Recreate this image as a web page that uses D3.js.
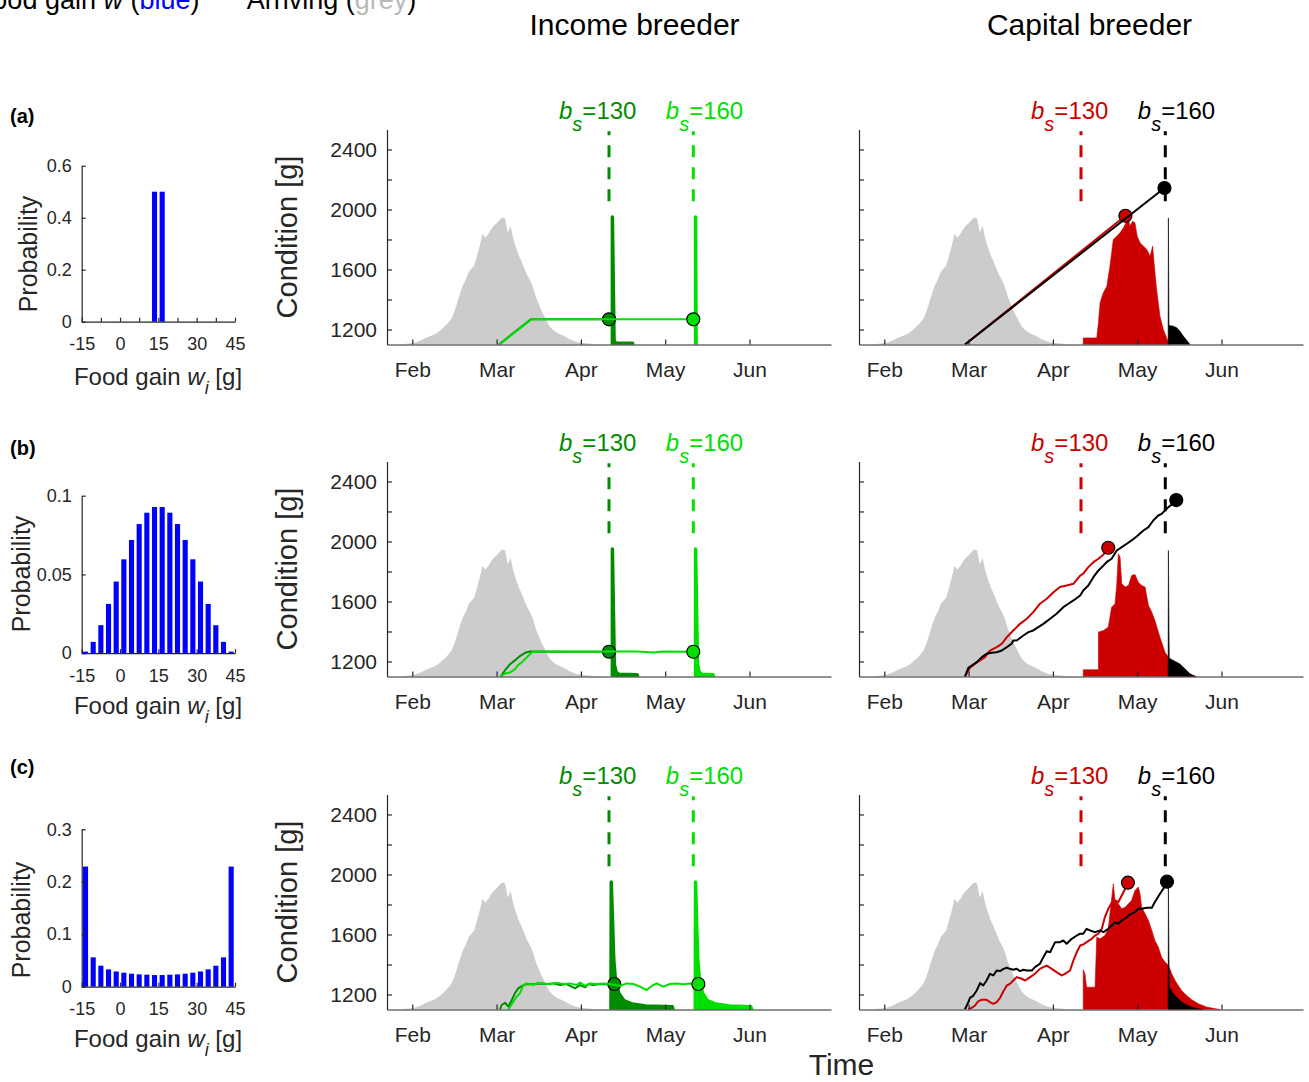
<!DOCTYPE html>
<html>
<head>
<meta charset="utf-8">
<script src="https://cdn.jsdelivr.net/npm/d3@7"></script>
<style>
  body { margin: 0; background: #fff; }
  svg text { font-family: "Liberation Sans", Arial, Helvetica, sans-serif; }
</style>
</head>
<body>
<svg id="chart" width="1309" height="1082"></svg>
<script>
// ---- food gain distributions (3 g bins) ----
const binCenters = [-13.5, -10.5, -7.5, -4.5, -1.5, 1.5, 4.5, 7.5, 10.5, 13.5,
                    16.5, 19.5, 22.5, 25.5, 28.5, 31.5, 34.5, 37.5, 40.5, 43.5];
const probA = [0, 0, 0, 0, 0, 0, 0, 0, 0, 0.5, 0.5, 0, 0, 0, 0, 0, 0, 0, 0, 0];
const probB = [0.001, 0.0072, 0.0178, 0.0313, 0.0455, 0.0596, 0.0719, 0.082, 0.0892, 0.0928,
               0.0928, 0.0892, 0.082, 0.0719, 0.0596, 0.0455, 0.0313, 0.0178, 0.0072, 0.001];
const probC = [0.229, 0.056, 0.040, 0.033, 0.029, 0.0267, 0.0248, 0.0235, 0.0229, 0.0222,
               0.0222, 0.0229, 0.0235, 0.0248, 0.0267, 0.029, 0.033, 0.040, 0.056, 0.229];
const foodTicks = [-15, -7.5, 0, 7.5, 15, 22.5, 30, 37.5, 45];
const foodLabels = [-15, 0, 15, 30, 45];
const probTicks = [[0, 0.2, 0.4, 0.6], [0, 0.05, 0.1], [0, 0.1, 0.2, 0.3]];
const probMax = [0.6, 0.1, 0.3];

// ---- time axis ----
const monthDays = [60, 90, 120, 150, 180];
const monthNames = ['Feb', 'Mar', 'Apr', 'May', 'Jun'];
const conditionTicks = [1200, 1400, 1600, 1800, 2000, 2200, 2400];
const conditionLabels = [1200, 1600, 2000, 2400];
const breedStarts = [130, 160];

// ---- arrival distribution (grey, plotted on the condition axis) ----
const arrivalDays = [55, 56, 57, 58, 59, 60, 61, 62, 63, 64, 65, 66, 67, 68, 69, 70, 71, 72,
  73, 74, 75, 76, 77, 78, 79, 80, 81, 82, 83, 84, 85, 86, 87, 88, 89, 90, 91, 92, 93, 94, 95,
  96, 97, 98, 99, 100, 101, 102, 103, 104, 105, 106, 107, 108, 109, 110, 111, 112, 113, 114,
  115, 116, 117, 118, 119, 120, 121, 122, 123, 124, 125, 126];
const arrivalCond = [1100, 1101, 1103, 1105, 1107, 1110, 1114, 1120, 1127, 1136, 1145, 1153,
  1160, 1168, 1180, 1195, 1211, 1228, 1250, 1275, 1320, 1380, 1440, 1495, 1530, 1580, 1605,
  1625, 1690, 1760, 1838, 1812, 1835, 1866, 1892, 1908, 1930, 1946, 1942, 1846, 1890, 1800,
  1742, 1690, 1648, 1600, 1558, 1525, 1480, 1415, 1370, 1325, 1288, 1250, 1218, 1198, 1184,
  1173, 1165, 1156, 1146, 1135, 1127, 1120, 1115, 1112, 1110, 1108, 1106, 1104, 1102, 1100];

// ---- income breeder: condition trajectories [day, g] ----
const incomeA130 = [[90.8, 1100], [102.2, 1268], [130, 1268]];
const incomeA160 = [[91.0, 1100], [102.5, 1268], [160, 1268]];
const incomeB130 = [[91.5, 1100], [93.0, 1142], [94.8, 1182], [96.6, 1209], [98.3, 1236],
  [100.1, 1258], [101.9, 1266], [115, 1265], [130, 1265]];
const incomeB160 = [[91.5, 1100], [93.0, 1120], [94.8, 1127], [96.6, 1149], [97.7, 1178],
  [98.9, 1193], [100.7, 1227], [102.5, 1260], [103.7, 1266], [140, 1266], [146, 1260],
  [149, 1266], [160, 1265]];
const incomeC130 = [[91.2, 1100], [91.8, 1130], [93.0, 1145], [94.2, 1119], [95.4, 1163],
  [96.5, 1208], [97.7, 1241], [98.9, 1256], [100.7, 1270], [103.1, 1268], [105.4, 1274],
  [107.8, 1270], [110.2, 1274], [112.6, 1263], [114.9, 1270], [116.7, 1252], [117.9, 1241],
  [119.7, 1263], [121.5, 1248], [122.6, 1270], [124.4, 1263], [126.8, 1270], [129.2, 1268],
  [131.9, 1270]];
const incomeC160 = [[94.2, 1100], [95.4, 1136], [97.1, 1185], [98.3, 1208], [99.5, 1263],
  [100.7, 1274], [103.1, 1263], [104.8, 1279], [106.6, 1274], [109.0, 1268], [111.4, 1279],
  [113.7, 1270], [116.1, 1274], [118.5, 1263], [119.7, 1279], [121.5, 1257], [123.2, 1274],
  [125.6, 1270], [128.0, 1274], [130.3, 1270], [133.9, 1257], [136.3, 1274], [138.7, 1270],
  [141.0, 1252], [143.4, 1230], [145.2, 1257], [147.0, 1274], [149.3, 1252], [151.7, 1270],
  [154.1, 1274], [156.4, 1268], [158.8, 1274], [161.8, 1270]];

// ---- income breeder: laying date distributions ----
const incomeLayA130 = [[131.2, 1100], [131.2, 1950], [131.8, 1130], [132.3, 1108], [138.4, 1108], [138.4, 1100]];
const incomeLayA160 = [[160.8, 1100], [160.8, 1950], [161.0, 1100]];
const incomeLayB130 = [[131.2, 1100], [131.2, 1950], [131.9, 1180], [132.5, 1130], [133.5, 1115],
  [140.0, 1112], [140.2, 1100]];
const incomeLayB160 = [[160.8, 1100], [160.8, 1950], [161.5, 1180], [162.1, 1130], [163.1, 1115],
  [167.0, 1112], [167.2, 1100]];
const incomeLayC130 = [[130.7, 1100], [130.8, 1950], [131.2, 1719], [131.7, 1430], [132.3, 1296],
  [133.5, 1208], [135.3, 1159], [138.3, 1136], [143.0, 1123], [152.5, 1119], [152.8, 1100]];
const incomeLayC160 = [[160.7, 1100], [160.8, 1950], [161.1, 1719], [161.6, 1430], [162.2, 1296],
  [163.3, 1208], [165.0, 1159], [168.0, 1136], [172.8, 1123], [180.4, 1119], [180.8, 1100]];

// ---- capital breeder: condition trajectories ----
const capitalA130 = [[88.7, 1100], [145.8, 1958]];
const capitalA160 = [[88.7, 1100], [159.7, 2143]];
const capitalB130 = [[88.7, 1100], [90.5, 1158], [92.3, 1185], [94.1, 1207], [95.8, 1229],
  [97.6, 1273], [100.0, 1296], [101.8, 1318], [103.6, 1362], [105.9, 1407], [108.3, 1451],
  [110.7, 1485], [113.0, 1529], [115.4, 1585], [117.8, 1618], [120.2, 1662], [122.5, 1696],
  [124.9, 1707], [127.3, 1718], [129.7, 1773], [130.8, 1785], [132.6, 1829], [134.4, 1862],
  [136.2, 1885], [138.0, 1913], [139.7, 1958]];
const capitalB160 = [[88.7, 1100], [89.9, 1158], [91.1, 1173], [92.9, 1196], [94.7, 1229],
  [96.4, 1251], [98.2, 1258], [100.0, 1262], [101.8, 1273], [103.6, 1296], [105.3, 1318],
  [105.9, 1340], [107.1, 1340], [109.5, 1373], [111.3, 1396], [113.0, 1407], [114.8, 1429],
  [116.6, 1451], [119.0, 1485], [121.3, 1518], [123.7, 1562], [125.5, 1585], [127.3, 1607],
  [129.7, 1640], [130.8, 1673], [132.6, 1707], [134.4, 1762], [136.2, 1807], [138.0, 1840],
  [139.1, 1862], [140.9, 1885], [142.7, 1940], [144.5, 1962], [146.3, 1985], [148.0, 2007],
  [149.8, 2033], [152.2, 2073], [154.0, 2096], [155.7, 2140], [157.5, 2173], [158.7, 2184],
  [159.9, 2207], [161.1, 2229], [162.3, 2247], [163.9, 2276]];
const capitalC130 = [[89.9, 1100], [91.1, 1111], [92.3, 1127], [93.5, 1156], [94.7, 1165],
  [96.4, 1165], [97.6, 1149], [98.8, 1138], [100.0, 1149], [101.2, 1178], [102.4, 1222],
  [103.6, 1260], [104.7, 1271], [105.9, 1293], [107.1, 1316], [108.9, 1305], [110.1, 1293],
  [111.9, 1316], [113.6, 1338], [115.4, 1371], [116.6, 1382], [117.8, 1393], [119.6, 1371],
  [121.3, 1349], [123.1, 1327], [124.3, 1338], [126.1, 1360], [127.3, 1427], [128.5, 1482],
  [129.7, 1527], [130.8, 1533], [132.0, 1549], [133.8, 1571], [135.0, 1593], [136.2, 1605],
  [137.4, 1638], [138.5, 1716], [139.7, 1771], [140.9, 1809], [142.1, 1827], [143.3, 1816],
  [144.5, 1860], [145.7, 1905], [146.7, 1945]];
const capitalC160 = [[88.7, 1100], [89.9, 1149], [90.5, 1178], [91.7, 1193], [92.9, 1227],
  [94.1, 1276], [95.2, 1260], [96.4, 1293], [97.6, 1338], [98.8, 1327], [100.0, 1360],
  [101.2, 1356], [102.4, 1371], [103.6, 1378], [104.7, 1371], [105.9, 1365], [107.1, 1371],
  [108.3, 1356], [109.5, 1365], [110.7, 1360], [112.5, 1360], [113.6, 1382], [115.4, 1405],
  [116.6, 1449], [117.8, 1489], [119.0, 1482], [120.8, 1549], [122.5, 1549], [123.7, 1560],
  [124.9, 1538], [126.7, 1571], [128.5, 1593], [129.7, 1605], [130.8, 1605], [132.0, 1638],
  [133.2, 1627], [135.0, 1616], [136.8, 1627], [138.0, 1616], [139.7, 1638], [140.9, 1660],
  [142.1, 1682], [143.3, 1671], [144.5, 1693], [145.7, 1705], [146.9, 1727], [148.0, 1738],
  [149.2, 1749], [150.4, 1771], [151.6, 1771], [153.4, 1778], [155.2, 1778], [156.3, 1816],
  [158.1, 1871], [159.3, 1905], [160.6, 1952]];

// ---- capital breeder: laying date distributions ----
const capitalLayA130 = [[130.8, 1100], [130.8, 1144], [135.6, 1144], [136.2, 1244], [136.8, 1378],
  [137.9, 1444], [139.2, 1489], [140.3, 1622], [141.5, 1800], [142.7, 1822], [143.9, 1844],
  [145.1, 1878], [146.3, 1922], [146.8, 1944], [147.4, 1889], [148.4, 1922], [149.2, 1911],
  [150.0, 1822], [151.0, 1778], [152.2, 1756], [153.4, 1733], [154.6, 1689], [155.5, 1756],
  [156.0, 1644], [156.9, 1467], [158.1, 1289], [159.3, 1200], [160.5, 1144], [161.3, 1100]];
const capitalLayA160 = [[161.0, 1100], [161.1, 1944], [161.3, 1227], [162.9, 1222], [164.1, 1211],
  [165.2, 1189], [166.4, 1156], [167.6, 1129], [168.8, 1100]];
const capitalLayB130 = [[130.8, 1100], [130.8, 1145], [136.2, 1145], [136.2, 1396], [138.0, 1407],
  [139.7, 1429], [140.9, 1562], [142.1, 1585], [142.7, 1707], [143.3, 1918], [143.9, 1896],
  [144.5, 1718], [145.7, 1696], [146.9, 1707], [148.0, 1773], [149.2, 1780], [150.4, 1729],
  [151.6, 1707], [152.8, 1696], [154.0, 1573], [155.2, 1529], [156.3, 1473], [158.1, 1362],
  [159.9, 1262], [161.1, 1229], [162.9, 1184], [165.2, 1151], [167.6, 1122], [171.2, 1100]];
const capitalLayB160 = [[161.0, 1100], [161.1, 1940], [161.4, 1222], [162.9, 1207], [165.2, 1184],
  [167.0, 1151], [168.8, 1118], [170.6, 1100]];
const capitalLayC130 = [[130.8, 1100], [130.8, 1365], [131.4, 1338], [132.0, 1249], [135.0, 1249],
  [135.6, 1582], [136.8, 1571], [138.5, 1593], [139.7, 1638], [140.3, 1738], [141.5, 1938],
  [142.1, 1827], [143.3, 1805], [144.5, 1771], [145.7, 1782], [146.9, 1805], [148.0, 1827],
  [149.2, 1893], [150.4, 1916], [151.0, 1871], [151.6, 1782], [152.8, 1738], [154.0, 1693],
  [155.2, 1627], [156.3, 1560], [157.5, 1516], [158.7, 1449], [159.9, 1416], [161.1, 1393],
  [162.3, 1338], [163.5, 1293], [164.6, 1260], [165.8, 1227], [167.6, 1193], [169.4, 1165],
  [171.8, 1138], [174.7, 1116], [178.3, 1104], [179.5, 1100]];
const capitalLayC160 = [[161.0, 1100], [161.1, 1916], [161.4, 1249], [162.9, 1205], [164.6, 1171],
  [166.4, 1142], [168.8, 1120], [171.8, 1104], [173.5, 1100]];

// ---- styling / layout ----
const font = '"Liberation Sans", Arial, Helvetica, sans-serif';
const axisColor = '#262626';
const darkGreen = '#008c00', lightGreen = '#00e000', red = '#cc0000', grey = '#cccccc';

const rowBottoms = [344.5, 676.5, 1009.5];
const histBottoms = [321.7, 653.2, 986.7];
const histTops = [165.7, 495.7, 829.3];
const panelLeft = { income: 387, capital: 859 };
const panelW = 444, panelH = 215;

const svg = d3.select('#chart');

function styleAxis(sel, size) {
  sel.attr('font-family', null).attr('font-size', null);
  sel.select('.domain').attr('stroke', axisColor).attr('stroke-width', 1.2);
  sel.selectAll('.tick line').attr('stroke', axisColor).attr('stroke-width', 1.2);
  sel.selectAll('.tick text').attr('fill', axisColor)
    .style('font-family', font).style('font-size', size + 'px');
}

// Histogram panels
function drawHist(row, probs) {
  const x = d3.scaleLinear().domain([-15, 45]).range([81.7, 235]);
  const y = d3.scaleLinear().domain([0, probMax[row]]).range([histBottoms[row], histTops[row]]);
  const g = svg.append('g');

  g.selectAll('rect')
    .data(binCenters.map((c, i) => ({ c, p: probs[i] })).filter(d => d.p > 0))
    .join('rect')
      .attr('x', d => x(d.c - 1))
      .attr('width', x(1) - x(-1))
      .attr('y', d => y(d.p))
      .attr('height', d => y(0) - y(d.p))
      .attr('fill', '#0000ff');

  g.append('g')
    .attr('transform', `translate(0,${histBottoms[row]})`)
    .call(d3.axisBottom(x).tickValues(foodTicks)
      .tickFormat(d => foodLabels.includes(d) ? d : '')
      .tickSize(-4).tickSizeOuter(0).tickPadding(15.7))
    .call(s => styleAxis(s, 18));

  g.append('g')
    .attr('transform', 'translate(81.7,0)')
    .call(d3.axisLeft(y).tickValues(probTicks[row]).tickFormat(d => d)
      .tickSize(-4).tickSizeOuter(0).tickPadding(10))
    .call(s => styleAxis(s, 18));
}

// Condition-vs-time panels
function drawTimePanel(kind, row, p) {
  const left = panelLeft[kind];
  const bottom = rowBottoms[row];
  const x = d3.scaleLinear().domain([51, 209]).range([left, left + panelW]);
  const y = d3.scaleLinear().domain([1100, 2533]).range([bottom, bottom - panelH]);
  const area = d3.area().x(d => x(d[0])).y0(y(1100)).y1(d => y(d[1]));
  const line = d3.line().x(d => x(d[0])).y(d => y(d[1]));

  const clipId = `clip-${kind}-${row}`;
  svg.append('clipPath').attr('id', clipId)
    .append('rect').attr('x', left).attr('y', bottom - panelH - 20)
    .attr('width', panelW).attr('height', panelH + 20);

  const plot = svg.append('g').attr('clip-path', `url(#${clipId})`);

  plot.append('path')
    .datum(d3.zip(arrivalDays, arrivalCond))
    .attr('d', area)
    .attr('fill', grey);

  p.lays.forEach((d, i) => {
    plot.append('path').datum(d)
      .attr('d', area)
      .attr('fill', p.colors[i])
      .attr('stroke', p.colors[i])
      .attr('stroke-width', p.layStroke)
      .attr('stroke-linejoin', 'round');
  });

  // b_s markers
  breedStarts.forEach((b, i) => {
    plot.append('path').datum([[b, 2055], [b, 2522]])
      .attr('d', line)
      .attr('fill', 'none')
      .attr('stroke', p.colors[i])
      .attr('stroke-width', 3)
      .attr('stroke-dasharray', '12,10');
  });

  p.lines.forEach((d, i) => {
    plot.append('path').datum(d)
      .attr('d', line)
      .attr('fill', 'none')
      .attr('stroke', p.colors[i])
      .attr('stroke-width', 2)
      .attr('stroke-linejoin', 'round');
    const end = d[d.length - 1];
    plot.append('circle')
      .attr('cx', x(end[0])).attr('cy', y(end[1])).attr('r', 6.5)
      .attr('fill', p.colors[i]).attr('stroke', '#000').attr('stroke-width', 1.2);
  });

  svg.append('g')
    .attr('transform', `translate(0,${bottom})`)
    .call(d3.axisBottom(x).tickValues(monthDays)
      .tickFormat((d, i) => monthNames[i])
      .tickSize(-5).tickSizeOuter(0).tickPadding(17.6))
    .call(s => styleAxis(s, 21));

  svg.append('g')
    .attr('transform', `translate(${left},0)`)
    .call(d3.axisLeft(y).tickValues(conditionTicks)
      .tickFormat(d => (kind === 'income' && conditionLabels.includes(d)) ? d : '')
      .tickSize(-5).tickSizeOuter(0).tickPadding(10))
    .call(s => styleAxis(s, 21));

  // b_s labels
  const base = 119 + (bottom - rowBottoms[0]);
  const offsets = [-50, -27.5];
  breedStarts.forEach((b, i) => {
    const t = svg.append('text')
      .attr('x', x(b) + offsets[i]).attr('y', base)
      .attr('fill', p.colors[i])
      .style('font-size', '24px');
    t.append('tspan').attr('font-style', 'italic').text('b');
    t.append('tspan').attr('font-style', 'italic').attr('dy', 12)
      .style('font-size', '20px').text('s');
    t.append('tspan').attr('dy', -12).text('=' + b);
  });

  if (kind === 'income') {
    svg.append('text')
      .attr('transform', `translate(297,${bottom - panelH / 2}) rotate(-90)`)
      .attr('text-anchor', 'middle')
      .attr('fill', axisColor)
      .style('font-size', '29px')
      .text('Condition [g]');
  }
}

const histRows = [probA, probB, probC];
histRows.forEach((probs, r) => drawHist(r, probs));

const incomePanels = [
  { lays: [incomeLayA130, incomeLayA160], lines: [incomeA130, incomeA160] },
  { lays: [incomeLayB130, incomeLayB160], lines: [incomeB130, incomeB160] },
  { lays: [incomeLayC130, incomeLayC160], lines: [incomeC130, incomeC160] }
];
const capitalPanels = [
  { lays: [capitalLayA130, capitalLayA160], lines: [capitalA130, capitalA160] },
  { lays: [capitalLayB130, capitalLayB160], lines: [capitalB130, capitalB160] },
  { lays: [capitalLayC130, capitalLayC160], lines: [capitalC130, capitalC160] }
];
incomePanels.forEach((p, r) => drawTimePanel('income', r,
  { ...p, colors: [darkGreen, lightGreen], layStroke: 3.5 }));
capitalPanels.forEach((p, r) => drawTimePanel('capital', r,
  { ...p, colors: [red, '#000'], layStroke: 0.6 }));

// ---- text: row letters, axis titles, headers ----
const rowLetters = ['(a)', '(b)', '(c)'];
const letterBase = [123, 455, 774];
rowLetters.forEach((t, i) => {
  svg.append('text').attr('x', 10).attr('y', letterBase[i])
    .attr('font-weight', 'bold').style('font-size', '20px').attr('fill', '#000').text(t);
});

const probLabelX = [37, 29.6, 29.6];
const probLabelY = [254, 574, 920];
const foodLabelBase = [384.5, 714, 1047];
histRows.forEach((_, i) => {
  svg.append('text')
    .attr('transform', `translate(${probLabelX[i]},${probLabelY[i]}) rotate(-90)`)
    .attr('text-anchor', 'middle').attr('fill', axisColor)
    .style('font-size', '25px').text('Probability');

  const t = svg.append('text')
    .attr('x', 158).attr('y', foodLabelBase[i])
    .attr('text-anchor', 'middle').attr('fill', axisColor)
    .style('font-size', '24px');
  t.append('tspan').text('Food gain ');
  t.append('tspan').attr('font-style', 'italic').text('w');
  t.append('tspan').attr('font-style', 'italic').attr('dy', 9).style('font-size', '18px').text('i');
  t.append('tspan').attr('dy', -9).text(' [g]');
});

svg.append('text').attr('x', 634.5).attr('y', 35).attr('text-anchor', 'middle')
  .attr('fill', '#000').style('font-size', '30px').text('Income breeder');
svg.append('text').attr('x', 1089.5).attr('y', 35).attr('text-anchor', 'middle')
  .attr('fill', '#000').style('font-size', '30px').text('Capital breeder');
svg.append('text').attr('x', 841.5).attr('y', 1075).attr('text-anchor', 'middle')
  .attr('fill', axisColor).style('font-size', '30px').text('Time');

// header legend, cut at the top edge as in the source figure
const h1 = svg.append('text').attr('x', 199.5).attr('y', 9)
  .attr('text-anchor', 'end').attr('fill', '#000').style('font-size', '27px');
h1.append('tspan').text('Food gain ');
h1.append('tspan').attr('font-style', 'italic').text('w');
h1.append('tspan').text(' (');
h1.append('tspan').attr('fill', '#0000ff').text('blue');
h1.append('tspan').text(')');

const h2 = svg.append('text').attr('x', 246.7).attr('y', 9)
  .attr('fill', '#000').style('font-size', '27px');
h2.append('tspan').text('Arriving (');
h2.append('tspan').attr('fill', '#b9b9b9').text('grey');
h2.append('tspan').text(')');
</script>
</body>
</html>
